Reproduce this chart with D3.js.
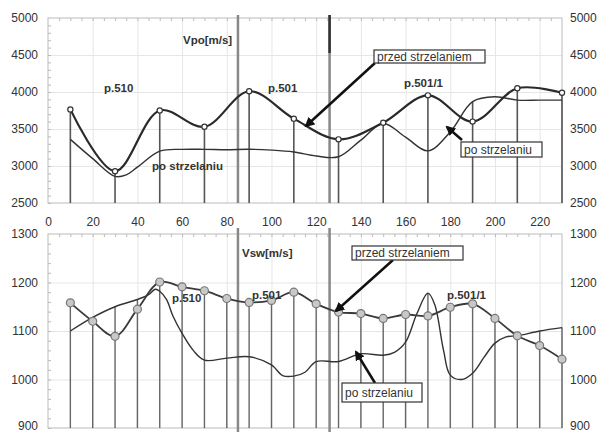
<!DOCTYPE html>
<html>
<head>
<meta charset="utf-8">
<script src="https://cdn.jsdelivr.net/npm/d3@7"></script>
<style>
  body { margin: 0; background: #fff; }
  svg { font-family: "Liberation Sans", Arial, sans-serif; }
  .tick text { fill: #333; font-size: 12px; }
  .lbl { font-weight: bold; font-size: 11.5px; fill: #333; }
  .box text { font-size: 12px; fill: #333; }
</style>
</head>
<body>
<div id="chart"></div>
<script>
// stations along the profile [m]
const xTicks = [0, 20, 40, 60, 80, 100, 120, 140, 160, 180, 200, 220];

// Vpo - before blasting (points every 20 m)
const vpoX = [10, 30, 50, 70, 90, 110, 130, 150, 170, 190, 210, 230];
const vpoBefore = [3765, 2930, 3750, 3530, 4010, 3640, 3360, 3585, 3955, 3600, 4050, 3990];
// Vpo - after blasting
const vpoAfterX = [10, 20, 30, 35, 40, 50, 60, 70, 80, 90, 100, 110, 120, 130, 140, 150, 160, 170, 180, 190, 200, 210, 220, 230];
const vpoAfter = [3360, 3100, 2860, 2880, 2985, 3200, 3225, 3225, 3220, 3226, 3215, 3190, 3135, 3125, 3350, 3575, 3390, 3205, 3460, 3870, 3935, 3890, 3890, 3890];

// Vsw - before blasting (points every 10 m)
const vswX = [10, 20, 30, 40, 50, 60, 70, 80, 90, 100, 110, 120, 130, 140, 150, 160, 170, 180, 190, 200, 210, 220, 230];
const vswBefore = [1158, 1120, 1089, 1145, 1201, 1191, 1183, 1167, 1159, 1163, 1180, 1156, 1139, 1136, 1126, 1134, 1131, 1149, 1156, 1126, 1090, 1070, 1042];
// Vsw - after blasting
const vswAfterX = [10, 20, 30, 40, 45, 48, 50, 53, 56, 60, 65, 70, 80, 90, 100, 105, 110, 115, 120, 130, 140, 150, 155, 160, 165, 170, 173, 177, 180, 185, 190, 195, 200, 205, 210, 220, 230];
const vswAfter = [1100, 1128, 1150, 1165, 1175, 1186, 1182, 1165, 1130, 1095, 1060, 1040, 1044, 1047, 1030, 1008, 1007, 1015, 1037, 1037, 1053, 1050, 1056, 1077, 1135, 1178, 1155, 1060, 1009, 1000, 1013, 1045, 1075, 1088, 1090, 1100, 1107];

// marker lines (boundaries between profiles)
const boundaries = [85, 126];

const width = 603, height = 432;
const svg = d3.select("#chart").append("svg").attr("width", width).attr("height", height);

const x = d3.scaleLinear().domain([0, 230]).range([48, 562]);
const yTop = d3.scaleLinear().domain([2500, 5000]).range([203, 18]);
const yBot = d3.scaleLinear().domain([900, 1300]).range([428, 234]);

svg.append("defs").append("marker")
    .attr("id", "arr")
    .attr("viewBox", "0 0 10 10")
    .attr("refX", 8).attr("refY", 5)
    .attr("markerWidth", 4).attr("markerHeight", 4)
    .attr("orient", "auto")
    .append("path").attr("d", "M0,0 L10,5 L0,10 z").attr("fill", "#111");

function panel(y, yTicks, minorStep) {
    const g = svg.append("g");
    const [y0, y1] = y.range();
    // grid
    g.append("g")
        .attr("transform", `translate(0,${y0})`)
        .call(d3.axisBottom(x).tickValues(xTicks.slice(1)).tickSize(-(y0 - y1)).tickFormat(""))
        .call(s => s.select(".domain").remove())
        .selectAll("line").attr("stroke", "#e6e6e6");
    g.append("g")
        .attr("transform", `translate(${x.range()[0]},0)`)
        .call(d3.axisLeft(y).tickValues(yTicks.slice(1, -1)).tickSize(-(x.range()[1] - x.range()[0])).tickFormat(""))
        .call(s => s.select(".domain").remove())
        .selectAll("line").attr("stroke", "#e6e6e6");
    // frame
    g.append("rect")
        .attr("x", x.range()[0]).attr("y", y1)
        .attr("width", x.range()[1] - x.range()[0]).attr("height", y0 - y1)
        .attr("fill", "none").attr("stroke", "#bbb");
    // minor ticks
    g.append("g")
        .attr("transform", `translate(0,${y1})`)
        .call(d3.axisBottom(x).tickValues(d3.range(5, 230, 5)).tickSize(3).tickFormat(""))
        .call(s => s.select(".domain").remove())
        .selectAll("line").attr("stroke", "#bbb");
    g.append("g")
        .attr("transform", `translate(${x.range()[0]},0)`)
        .call(d3.axisRight(y).tickValues(d3.range(y.domain()[0], y.domain()[1], minorStep)).tickSize(3).tickFormat(""))
        .call(s => s.select(".domain").remove())
        .selectAll("line").attr("stroke", "#bbb");
    // value labels on both sides
    const fmt = d3.format("d");
    g.append("g")
        .attr("transform", `translate(${x.range()[0]},0)`)
        .call(d3.axisLeft(y).tickValues(yTicks).tickFormat(fmt).tickSize(0).tickPadding(10))
        .call(s => s.select(".domain").remove());
    g.append("g")
        .attr("transform", `translate(${x.range()[1]},0)`)
        .call(d3.axisRight(y).tickValues(yTicks).tickFormat(fmt).tickSize(0).tickPadding(8))
        .call(s => s.select(".domain").remove());
    return g;
}

// ---------- top panel: Vpo ----------
const topG = panel(yTop, [2500, 3000, 3500, 4000, 4500, 5000], 100);

topG.selectAll(".drop")
    .data(vpoX)
    .join("line")
    .attr("class", "drop")
    .attr("x1", d => x(d)).attr("x2", d => x(d))
    .attr("y1", (d, i) => {
        const j = vpoAfterX.indexOf(d);
        return yTop(j < 0 ? vpoBefore[i] : Math.max(vpoBefore[i], vpoAfter[j]));
    })
    .attr("y2", yTop(2500))
    .attr("stroke", "#555").attr("stroke-width", 1.6);

topG.selectAll(".bound")
    .data(boundaries)
    .join("line")
    .attr("class", "bound")
    .attr("x1", d => x(d)).attr("x2", d => x(d))
    .attr("y1", 15).attr("y2", yTop(2500))
    .attr("stroke", "#888").attr("stroke-width", 2.5);
topG.append("line")
    .attr("x1", x(boundaries[1])).attr("x2", x(boundaries[1]))
    .attr("y1", 15).attr("y2", 53)
    .attr("stroke", "#333").attr("stroke-width", 2.5);

const lineTopAfter = d3.line().x((d, i) => x(vpoAfterX[i])).y(d => yTop(d)).curve(d3.curveCatmullRom);
topG.append("path").attr("d", lineTopAfter(vpoAfter))
    .attr("fill", "none").attr("stroke", "#333").attr("stroke-width", 1.4);

const lineTopBefore = d3.line().x((d, i) => x(vpoX[i])).y(d => yTop(d)).curve(d3.curveCatmullRom);
topG.append("path").attr("d", lineTopBefore(vpoBefore))
    .attr("fill", "none").attr("stroke", "#2a2a2a").attr("stroke-width", 2.2);

topG.selectAll(".pt")
    .data(vpoBefore)
    .join("circle")
    .attr("class", "pt")
    .attr("cx", (d, i) => x(vpoX[i])).attr("cy", d => yTop(d))
    .attr("r", 2.6).attr("fill", "#fff").attr("stroke", "#333").attr("stroke-width", 1.2);

// x labels between the panels
svg.append("g")
    .attr("transform", "translate(0,217)")
    .call(d3.axisBottom(x).tickValues(xTicks).tickSize(0).tickPadding(0))
    .call(s => s.select(".domain").remove());

// ---------- bottom panel: Vsw ----------
const botG = panel(yBot, [900, 1000, 1100, 1200, 1300], 20);
// keep the lowest value label inside the picture
botG.selectAll(".tick text").filter(d => d === 900).attr("dy", "0.1em");

botG.selectAll(".drop")
    .data(vswX)
    .join("line")
    .attr("class", "drop")
    .attr("x1", d => x(d)).attr("x2", d => x(d))
    .attr("y1", (d, i) => {
        const j = vswAfterX.indexOf(d);
        return yBot(j < 0 ? vswBefore[i] : Math.max(vswBefore[i], vswAfter[j]));
    })
    .attr("y2", yBot(900))
    .attr("stroke", "#666").attr("stroke-width", 1.4);

botG.selectAll(".bound")
    .data(boundaries)
    .join("line")
    .attr("class", "bound")
    .attr("x1", d => x(d)).attr("x2", d => x(d))
    .attr("y1", 228).attr("y2", 432)
    .attr("stroke", "#888").attr("stroke-width", 2.5);

const lineBotAfter = d3.line().x((d, i) => x(vswAfterX[i])).y(d => yBot(d)).curve(d3.curveCatmullRom);
botG.append("path").attr("d", lineBotAfter(vswAfter))
    .attr("fill", "none").attr("stroke", "#333").attr("stroke-width", 1.4);

const lineBotBefore = d3.line().x((d, i) => x(vswX[i])).y(d => yBot(d)).curve(d3.curveCatmullRom);
botG.append("path").attr("d", lineBotBefore(vswBefore))
    .attr("fill", "none").attr("stroke", "#3a3a3a").attr("stroke-width", 1.8);

botG.selectAll(".pt")
    .data(vswBefore)
    .join("circle")
    .attr("class", "pt")
    .attr("cx", (d, i) => x(vswX[i])).attr("cy", d => yBot(d))
    .attr("r", 4).attr("fill", "#c8c8c8").attr("stroke", "#777").attr("stroke-width", 1.2);

// ---------- annotations ----------
const labels = [
    { t: "Vpo[m/s]", x: 183, y: 44 },
    { t: "p.510", x: 104, y: 92 },
    { t: "p.501", x: 268, y: 92 },
    { t: "p.501/1", x: 404, y: 87 },
    { t: "po strzelaniu", x: 152, y: 170 },
    { t: "Vsw[m/s]", x: 242, y: 257 },
    { t: "p.510", x: 172, y: 302 },
    { t: "p.501", x: 252, y: 299 },
    { t: "p.501/1", x: 447, y: 299 },
];
svg.selectAll(".lbl")
    .data(labels)
    .join("text")
    .attr("class", "lbl")
    .attr("x", d => d.x).attr("y", d => d.y)
    .text(d => d.t);

const callouts = [
    { t: "przed strzelaniem", bx: 374, by: 50, bw: 111, bh: 13, ax1: 375, ay1: 63, ax2: 306, ay2: 126 },
    { t: "po strzelaniu", bx: 461, by: 142, bw: 81, bh: 15, ax1: 462, ay1: 140, ax2: 447, ay2: 127 },
    { t: "przed strzelaniem", bx: 352, by: 246, bw: 111, bh: 14, ax1: 393, ay1: 260, ax2: 336, ay2: 311 },
    { t: "po strzelaniu", bx: 342, by: 383, bw: 80, bh: 19, ax1: 375, ay1: 383, ax2: 356, ay2: 352 },
];
const co = svg.selectAll(".box").data(callouts).join("g").attr("class", "box");
co.append("line")
    .attr("x1", d => d.ax1).attr("y1", d => d.ay1)
    .attr("x2", d => d.ax2).attr("y2", d => d.ay2)
    .attr("stroke", "#111").attr("stroke-width", 2.5)
    .attr("marker-end", "url(#arr)");
co.append("rect")
    .attr("x", d => d.bx).attr("y", d => d.by)
    .attr("width", d => d.bw).attr("height", d => d.bh)
    .attr("fill", "#fff").attr("stroke", "#333").attr("stroke-width", 1.2);
co.append("text")
    .attr("x", d => d.bx + 3).attr("y", d => d.by + d.bh / 2 + 4)
    .text(d => d.t);
</script>
</body>
</html>
